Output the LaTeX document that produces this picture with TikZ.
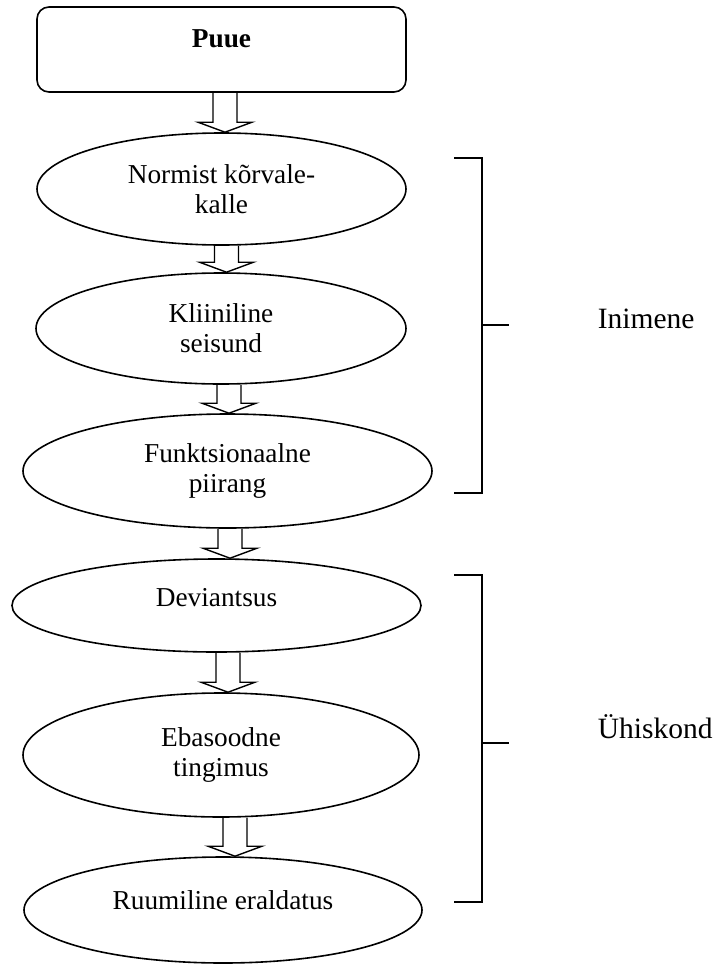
\documentclass[tikz,border=0pt]{standalone}
\usepackage{fontspec}
\setmainfont{Liberation Serif}
\usetikzlibrary{shapes.geometric,calc}

% hollow block arrow: [shift of shaft] upper node, lower node
\newcommand{\fatarrow}[3][0pt]{%
  \draw[fatarr] ($(#2.south -| #3.north)+(#1-12pt,0pt)$)
    -- ($(#3.north)+(#1-12pt,10pt)$) -- ($(#3.north)+(#1-27pt,10pt)$)
    -- ($(#3.north)+(#1,0pt)$)
    -- ($(#3.north)+(#1+27pt,10pt)$) -- ($(#3.north)+(#1+12pt,10pt)$)
    -- ($(#2.south -| #3.north)+(#1+12pt,0pt)$);}

\begin{document}
\begin{tikzpicture}[x=1pt,y=-1pt,line width=1.6pt,
  font=\fontsize{27.3pt}{30pt}\selectfont,
  stage/.style={draw,ellipse,inner sep=0pt,align=center},
  topbox/.style={draw,rounded corners=12pt,inner sep=0pt,
    minimum width=369pt,text height=40pt,text depth=45pt},
  fatarr/.style={line width=1.4pt,line join=miter},
  grouplabel/.style={anchor=base west,inner sep=0pt,
    font=\fontsize{29.5pt}{33pt}\selectfont}]
  \useasboundingbox (0,0) rectangle (715,964);

  \node[topbox] (puue) at (221.5,49.5) {\textbf{Puue}};
  \node[stage,minimum width=369pt,minimum height=112pt] (normist) at (221.5,189)
    {Normist kõrvale-\\kalle};
  \node[stage,minimum width=370pt,minimum height=111pt] (kliiniline) at (221,328.5)
    {Kliiniline\\seisund};
  \node[stage,minimum width=409pt,minimum height=114pt] (funkts) at (227.5,471)
    {Funktsionaalne\\piirang};
  \node[stage,minimum width=409pt,minimum height=93pt,text depth=16pt]
    (deviants) at (216.5,605.5) {Deviantsus};
  \node[stage,minimum width=396pt,minimum height=124pt] (ebasoodne) at (221,755)
    {Ebasoodne\\tingimus};
  \node[stage,minimum width=398pt,minimum height=106pt,text depth=20pt]
    (ruumiline) at (223,910) {Ruumiline eraldatus};

  \fatarrow[3.5pt]{puue}{normist}
  \fatarrow[5.5pt]{normist}{kliiniline}
  \fatarrow[1.5pt]{kliiniline}{funkts}
  \fatarrow[13.5pt]{funkts}{deviants}
  \fatarrow[7pt]{deviants}{ebasoodne}
  \fatarrow[12pt]{ebasoodne}{ruumiline}

  % brackets
  \draw (454,158) -- (482,158) -- (482,493) -- (454,493);
  \draw (482,325) -- (509,325);
  \draw (454,575) -- (482,575) -- (482,902) -- (454,902);
  \draw (482,743) -- (509,743);
  \node[grouplabel] (inimene) at (597,328) {Inimene};
  \node[grouplabel] (yhiskond) at (597,738) {Ühiskond};
\end{tikzpicture}
\end{document}
